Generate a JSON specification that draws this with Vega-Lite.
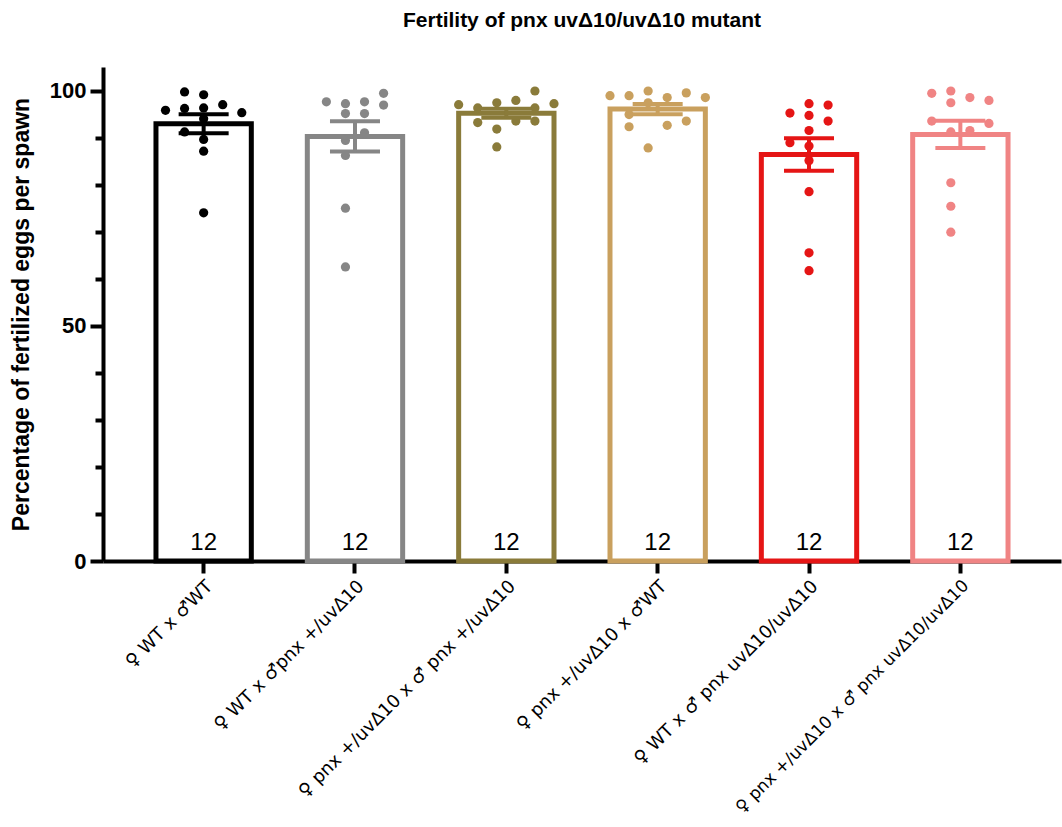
{
  "$schema": "https://vega.github.io/schema/vega-lite/v6.json",
  "autosize": {"type": "none"},
  "padding": {"left": 103, "top": 67, "right": 1, "bottom": 266},
  "width": 958,
  "height": 494,
  "background": "white",
  "title": {
    "text": "Fertility of pnx uvΔ10/uvΔ10 mutant",
    "font": "Liberation Sans",
    "fontSize": 21,
    "fontWeight": "bold",
    "color": "black",
    "anchor": "middle",
    "frame": "group",
    "offset": 36
  },
  "config": {
    "view": {"stroke": null},
    "font": "Liberation Sans"
  },
  "resolve": {"scale": {"xOffset": "independent"}},
  "data": {
    "values": [
      {"group": "♀ WT x ♂WT", "value": 99.7, "slot": -1},
      {"group": "♀ WT x ♂WT", "value": 99.1, "slot": 0},
      {"group": "♀ WT x ♂WT", "value": 95.8, "slot": -2},
      {"group": "♀ WT x ♂WT", "value": 96.2, "slot": -1},
      {"group": "♀ WT x ♂WT", "value": 96.3, "slot": 0},
      {"group": "♀ WT x ♂WT", "value": 97.0, "slot": 1},
      {"group": "♀ WT x ♂WT", "value": 95.3, "slot": 2},
      {"group": "♀ WT x ♂WT", "value": 94.0, "slot": 0},
      {"group": "♀ WT x ♂WT", "value": 91.2, "slot": -1},
      {"group": "♀ WT x ♂WT", "value": 89.6, "slot": 0},
      {"group": "♀ WT x ♂WT", "value": 87.1, "slot": 0},
      {"group": "♀ WT x ♂WT", "value": 74.0, "slot": 0},
      {"group": "♀ WT x ♂pnx +/uvΔ10", "value": 97.6, "slot": -1.5},
      {"group": "♀ WT x ♂pnx +/uvΔ10", "value": 97.2, "slot": -0.5},
      {"group": "♀ WT x ♂pnx +/uvΔ10", "value": 97.6, "slot": 0.5},
      {"group": "♀ WT x ♂pnx +/uvΔ10", "value": 99.4, "slot": 1.5},
      {"group": "♀ WT x ♂pnx +/uvΔ10", "value": 96.9, "slot": 1.5},
      {"group": "♀ WT x ♂pnx +/uvΔ10", "value": 95.1, "slot": -0.5},
      {"group": "♀ WT x ♂pnx +/uvΔ10", "value": 95.1, "slot": 0.5},
      {"group": "♀ WT x ♂pnx +/uvΔ10", "value": 91.0, "slot": 0.5},
      {"group": "♀ WT x ♂pnx +/uvΔ10", "value": 89.4, "slot": -0.5},
      {"group": "♀ WT x ♂pnx +/uvΔ10", "value": 86.2, "slot": -0.5},
      {"group": "♀ WT x ♂pnx +/uvΔ10", "value": 75.0, "slot": -0.5},
      {"group": "♀ WT x ♂pnx +/uvΔ10", "value": 62.5, "slot": -0.5},
      {"group": "♀ pnx +/uvΔ10 x ♂ pnx +/uvΔ10", "value": 97.0, "slot": -2.5},
      {"group": "♀ pnx +/uvΔ10 x ♂ pnx +/uvΔ10", "value": 96.3, "slot": -1.5},
      {"group": "♀ pnx +/uvΔ10 x ♂ pnx +/uvΔ10", "value": 97.4, "slot": -0.5},
      {"group": "♀ pnx +/uvΔ10 x ♂ pnx +/uvΔ10", "value": 97.9, "slot": 0.5},
      {"group": "♀ pnx +/uvΔ10 x ♂ pnx +/uvΔ10", "value": 99.9, "slot": 1.5},
      {"group": "♀ pnx +/uvΔ10 x ♂ pnx +/uvΔ10", "value": 96.3, "slot": 1.5},
      {"group": "♀ pnx +/uvΔ10 x ♂ pnx +/uvΔ10", "value": 97.2, "slot": 2.5},
      {"group": "♀ pnx +/uvΔ10 x ♂ pnx +/uvΔ10", "value": 93.2, "slot": -1.5},
      {"group": "♀ pnx +/uvΔ10 x ♂ pnx +/uvΔ10", "value": 93.5, "slot": 0.5},
      {"group": "♀ pnx +/uvΔ10 x ♂ pnx +/uvΔ10", "value": 93.5, "slot": 1.5},
      {"group": "♀ pnx +/uvΔ10 x ♂ pnx +/uvΔ10", "value": 91.8, "slot": -0.5},
      {"group": "♀ pnx +/uvΔ10 x ♂ pnx +/uvΔ10", "value": 88.0, "slot": -0.5},
      {"group": "♀ pnx +/uvΔ10 x ♂WT", "value": 98.9, "slot": -2.5},
      {"group": "♀ pnx +/uvΔ10 x ♂WT", "value": 98.9, "slot": -1.5},
      {"group": "♀ pnx +/uvΔ10 x ♂WT", "value": 99.9, "slot": -0.5},
      {"group": "♀ pnx +/uvΔ10 x ♂WT", "value": 98.5, "slot": 0.5},
      {"group": "♀ pnx +/uvΔ10 x ♂WT", "value": 99.5, "slot": 1.5},
      {"group": "♀ pnx +/uvΔ10 x ♂WT", "value": 98.5, "slot": 2.5},
      {"group": "♀ pnx +/uvΔ10 x ♂WT", "value": 97.4, "slot": -0.5},
      {"group": "♀ pnx +/uvΔ10 x ♂WT", "value": 94.9, "slot": -1.5},
      {"group": "♀ pnx +/uvΔ10 x ♂WT", "value": 92.3, "slot": -1.5},
      {"group": "♀ pnx +/uvΔ10 x ♂WT", "value": 92.6, "slot": 0.5},
      {"group": "♀ pnx +/uvΔ10 x ♂WT", "value": 93.5, "slot": 1.5},
      {"group": "♀ pnx +/uvΔ10 x ♂WT", "value": 87.8, "slot": -0.5},
      {"group": "♀ WT x ♂ pnx uvΔ10/uvΔ10", "value": 95.2, "slot": -1},
      {"group": "♀ WT x ♂ pnx uvΔ10/uvΔ10", "value": 97.2, "slot": 0},
      {"group": "♀ WT x ♂ pnx uvΔ10/uvΔ10", "value": 96.9, "slot": 1},
      {"group": "♀ WT x ♂ pnx uvΔ10/uvΔ10", "value": 94.7, "slot": 0},
      {"group": "♀ WT x ♂ pnx uvΔ10/uvΔ10", "value": 93.5, "slot": 1},
      {"group": "♀ WT x ♂ pnx uvΔ10/uvΔ10", "value": 91.5, "slot": 0},
      {"group": "♀ WT x ♂ pnx uvΔ10/uvΔ10", "value": 88.9, "slot": -1},
      {"group": "♀ WT x ♂ pnx uvΔ10/uvΔ10", "value": 88.2, "slot": 0},
      {"group": "♀ WT x ♂ pnx uvΔ10/uvΔ10", "value": 85.1, "slot": 0},
      {"group": "♀ WT x ♂ pnx uvΔ10/uvΔ10", "value": 78.5, "slot": 0},
      {"group": "♀ WT x ♂ pnx uvΔ10/uvΔ10", "value": 65.5, "slot": 0},
      {"group": "♀ WT x ♂ pnx uvΔ10/uvΔ10", "value": 61.7, "slot": 0},
      {"group": "♀ pnx +/uvΔ10 x ♂ pnx uvΔ10/uvΔ10", "value": 99.4, "slot": -1.5},
      {"group": "♀ pnx +/uvΔ10 x ♂ pnx uvΔ10/uvΔ10", "value": 99.9, "slot": -0.5},
      {"group": "♀ pnx +/uvΔ10 x ♂ pnx uvΔ10/uvΔ10", "value": 97.4, "slot": -0.5},
      {"group": "♀ pnx +/uvΔ10 x ♂ pnx uvΔ10/uvΔ10", "value": 98.5, "slot": 0.5},
      {"group": "♀ pnx +/uvΔ10 x ♂ pnx uvΔ10/uvΔ10", "value": 97.9, "slot": 1.5},
      {"group": "♀ pnx +/uvΔ10 x ♂ pnx uvΔ10/uvΔ10", "value": 93.5, "slot": -1.5},
      {"group": "♀ pnx +/uvΔ10 x ♂ pnx uvΔ10/uvΔ10", "value": 93.0, "slot": 1.5},
      {"group": "♀ pnx +/uvΔ10 x ♂ pnx uvΔ10/uvΔ10", "value": 91.2, "slot": -0.5},
      {"group": "♀ pnx +/uvΔ10 x ♂ pnx uvΔ10/uvΔ10", "value": 91.5, "slot": 0.5},
      {"group": "♀ pnx +/uvΔ10 x ♂ pnx uvΔ10/uvΔ10", "value": 80.4, "slot": -0.5},
      {"group": "♀ pnx +/uvΔ10 x ♂ pnx uvΔ10/uvΔ10", "value": 75.4, "slot": -0.5},
      {"group": "♀ pnx +/uvΔ10 x ♂ pnx uvΔ10/uvΔ10", "value": 69.9, "slot": -0.5}
    ]
  },
  "encoding": {
    "x": {
      "field": "group",
      "type": "nominal",
      "sort": null,
      "scale": {"paddingInner": 0.37, "paddingOuter": 0.35},
      "axis": {
        "title": null,
        "labelAngle": -45,
        "labelFont": "DejaVu Sans",
        "labelFontSize": {"condition": {"test": "length(datum.label) > 30", "value": 17}, "value": 18},
        "labelColor": "black",
        "labelPadding": 4,
        "labelLimit": 600,
        "domainColor": "black",
        "domainWidth": 4,
        "tickColor": "black",
        "tickWidth": 4,
        "tickSize": 12
      }
    },
    "color": {
      "field": "group",
      "type": "nominal",
      "sort": null,
      "legend": null,
      "scale": {
        "domain": ["♀ WT x ♂WT", "♀ WT x ♂pnx +/uvΔ10", "♀ pnx +/uvΔ10 x ♂ pnx +/uvΔ10", "♀ pnx +/uvΔ10 x ♂WT", "♀ WT x ♂ pnx uvΔ10/uvΔ10", "♀ pnx +/uvΔ10 x ♂ pnx uvΔ10/uvΔ10"],
        "range": ["#000000", "#868686", "#8A7B3A", "#C9A05E", "#E51515", "#F08484"]
      }
    }
  },
  "layer": [
    {
      "mark": {"type": "bar", "fill": "white", "strokeWidth": 5},
      "encoding": {
        "y": {
          "aggregate": "mean",
          "field": "value",
          "type": "quantitative",
          "title": "Percentage of fertilized eggs per spawn",
          "scale": {"domain": [0, 105], "nice": false},
          "axis": {
            "titleFont": "Liberation Sans",
            "titleFontSize": 23,
            "titleFontWeight": "bold",
            "titleColor": "black",
            "titlePadding": 16,
            "values": [0, 5, 10, 15, 20, 25, 30, 35, 40, 45, 50, 55, 60, 65, 70, 75, 80, 85, 90, 95, 100],
            "labelExpr": "datum.value % 50 === 0 ? datum.label : ''",
            "labelFont": "Liberation Sans",
            "labelFontSize": 22,
            "labelFontWeight": "bold",
            "labelColor": "black",
            "labelPadding": 4,
            "grid": false,
            "domainColor": "black",
            "domainWidth": 4,
            "tickColor": "black",
            "tickWidth": 4,
            "tickSize": {"condition": {"test": "datum.value % 50 === 0", "value": 13}, "value": 8}
          }
        },
        "stroke": {"field": "group", "type": "nominal", "sort": null, "legend": null, "scale": {
          "domain": ["♀ WT x ♂WT", "♀ WT x ♂pnx +/uvΔ10", "♀ pnx +/uvΔ10 x ♂ pnx +/uvΔ10", "♀ pnx +/uvΔ10 x ♂WT", "♀ WT x ♂ pnx uvΔ10/uvΔ10", "♀ pnx +/uvΔ10 x ♂ pnx uvΔ10/uvΔ10"],
          "range": ["#000000", "#868686", "#8A7B3A", "#C9A05E", "#E51515", "#F08484"]
        }},
        "color": {"value": "white"}
      }
    },
    {
      "mark": {"type": "circle", "size": 85, "opacity": 1},
      "encoding": {
        "y": {"field": "value", "type": "quantitative", "title": "Percentage of fertilized eggs per spawn"},
        "xOffset": {"field": "slot", "type": "quantitative", "scale": {"domain": [-2.5, 2.5]}}
      }
    },
    {
      "mark": {"type": "errorbar", "extent": "stderr", "thickness": 4, "rule": {"opacity": 1}, "ticks": {"size": 50, "thickness": 4, "opacity": 1}},
      "encoding": {
        "y": {"field": "value", "type": "quantitative", "title": "Percentage of fertilized eggs per spawn"}
      }
    },
    {
      "mark": {"type": "text", "font": "Liberation Sans", "fontSize": 24, "color": "black", "baseline": "alphabetic", "dy": -11},
      "encoding": {
        "y": {"datum": 0},
        "text": {"aggregate": "count", "field": "value", "type": "quantitative"},
        "color": {"value": "black"}
      }
    }
  ]
}
